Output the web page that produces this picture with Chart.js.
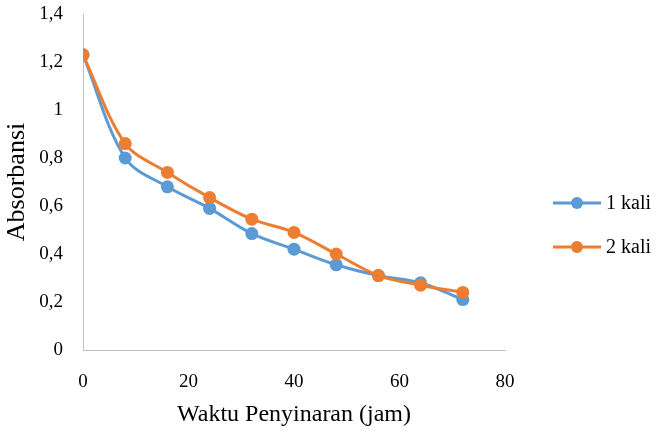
<!DOCTYPE html>
<html>
<head>
<meta charset="utf-8">
<script src="https://cdn.jsdelivr.net/npm/chart.js@4/dist/chart.umd.min.js"></script>
<style>
  html, body { margin: 0; padding: 0; background: #ffffff; }
  #wrap { width: 656px; height: 433px; position: relative; }
</style>
</head>
<body>
<div id="wrap"><canvas id="c" width="656" height="433"></canvas></div>
<script>
// Irradiation time (hours)
const waktu = [0, 8, 16, 24, 32, 40, 48, 56, 64, 72];
// Absorbance after one and two treatments
const satuKali = [1.23, 0.80, 0.68, 0.59, 0.485, 0.42, 0.355, 0.31, 0.28, 0.21];
const duaKali  = [1.23, 0.86, 0.74, 0.635, 0.545, 0.49, 0.40, 0.31, 0.27, 0.24];
const seriesNames = ['1 kali', '2 kali'];
const yTicks = [0, 0.2, 0.4, 0.6, 0.8, 1, 1.2, 1.4];
const xTicks = [0, 20, 40, 60, 80];

const BLUE = '#5B9BD5';
const ORANGE = '#ED7D31';
const FONT = '"Liberation Serif", "Times New Roman", serif';

const toPoints = (ys) => waktu.map((x, i) => ({ x: x, y: ys[i] }));
const fmt = (v) => String(Number(v.toFixed(1))).replace('.', ',');

// Legend drawn to the right of the plot: line with a marker, then the label
const sideLegend = {
  id: 'sideLegend',
  afterDraw(chart) {
    const ctx = chart.ctx;
    const items = [
      { name: seriesNames[0], color: BLUE, y: 203 },
      { name: seriesNames[1], color: ORANGE, y: 247 }
    ];
    ctx.save();
    items.forEach(it => {
      ctx.strokeStyle = it.color;
      ctx.lineWidth = 3;
      ctx.beginPath();
      ctx.moveTo(553, it.y);
      ctx.lineTo(601, it.y);
      ctx.stroke();
      ctx.fillStyle = it.color;
      ctx.beginPath();
      ctx.arc(577, it.y, 6, 0, Math.PI * 2);
      ctx.fill();
      ctx.fillStyle = '#000000';
      ctx.font = '20px ' + FONT;
      ctx.textBaseline = 'middle';
      ctx.textAlign = 'left';
      ctx.fillText(it.name, 606, it.y + 1);
    });
    ctx.restore();
  }
};

new Chart(document.getElementById('c'), {
  type: 'line',
  data: {
    datasets: [
      {
        label: seriesNames[0],
        data: toPoints(satuKali),
        borderColor: BLUE,
        backgroundColor: BLUE,
        borderWidth: 3,
        pointRadius: 6.5,
        pointHoverRadius: 6.5,
        pointBorderWidth: 0,
        tension: 0.33,
        order: 2
      },
      {
        label: seriesNames[1],
        data: toPoints(duaKali),
        borderColor: ORANGE,
        backgroundColor: ORANGE,
        borderWidth: 3,
        pointRadius: 6.5,
        pointHoverRadius: 6.5,
        pointBorderWidth: 0,
        tension: 0.33,
        order: 1
      }
    ]
  },
  options: {
    responsive: false,
    animation: false,
    devicePixelRatio: 1,
    layout: { padding: { left: 0, right: 151, top: 14, bottom: 0 } },
    plugins: {
      legend: { display: false },
      tooltip: { enabled: false }
    },
    scales: {
      x: {
        type: 'linear',
        min: 0,
        max: 80,
        afterBuildTicks: (s) => { s.ticks = xTicks.map(v => ({ value: v })); },
        afterFit: (s) => { s.height = 83; s.paddingLeft = 0; s.paddingRight = 0; },
        grid: { display: false, drawTicks: false },
        border: { display: true, color: '#BFBFBF', width: 1 },
        ticks: {
          padding: 21,
          color: '#000000',
          font: { family: FONT, size: 19 },
          maxRotation: 0,
          callback: (v) => String(v)
        },
        title: {
          display: true,
          text: 'Waktu Penyinaran (jam)',
          color: '#000000',
          font: { family: FONT, size: 24 },
          padding: { top: 0, bottom: 4 }
        }
      },
      y: {
        min: 0,
        max: 1.4,
        afterBuildTicks: (s) => { s.ticks = yTicks.map(v => ({ value: v })); },
        afterFit: (s) => { s.width = 83; s.paddingTop = 0; s.paddingBottom = 0; },
        grid: { display: false, drawTicks: false },
        border: { display: true, color: '#BFBFBF', width: 1 },
        ticks: {
          padding: 20,
          color: '#000000',
          font: { family: FONT, size: 19 },
          callback: (v) => fmt(v)
        },
        title: {
          display: true,
          text: 'Absorbansi',
          color: '#000000',
          font: { family: FONT, size: 26 },
          padding: { top: 2, bottom: 0 }
        }
      }
    }
  },
  plugins: [sideLegend]
});
</script>
</body>
</html>
